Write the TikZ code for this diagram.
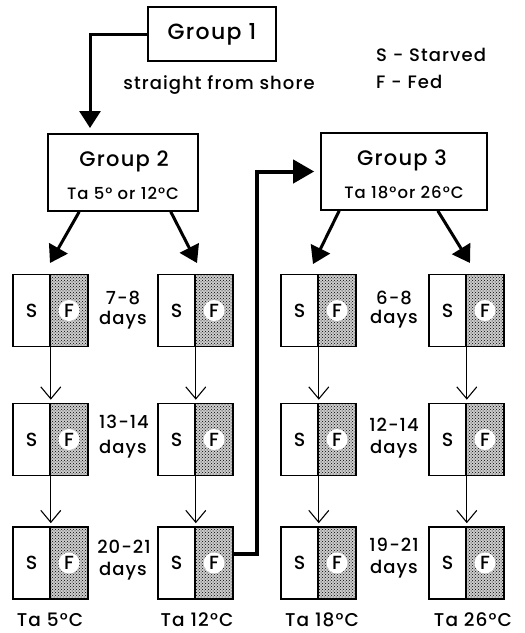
\documentclass[tikz,border=0pt]{standalone}
\usepackage{fontspec}
\setmainfont{Poppins}[UprightFont=* Medium,LetterSpace=6]
\usetikzlibrary{arrows.meta,patterns}
\begin{document}
\begin{tikzpicture}[x=1pt,y=-1pt,
  grp/.style={draw,line width=1.6pt,inner sep=0pt,align=center},
  scell/.style={draw,line width=1.6pt,minimum width=37pt,minimum height=72pt,inner sep=0pt,font=\fontsize{19}{19}\selectfont},
  fcell/.style={draw,line width=1.6pt,minimum width=38pt,minimum height=72pt,inner sep=0pt,fill=black!20,postaction={pattern=crosshatch dots}},
  fcirc/.style={circle,fill=white,minimum size=21pt,inner sep=0pt,font=\fontsize{19}{19}\selectfont},
  bigarrow/.style={line width=3pt,-{Triangle[length=17pt,width=21pt]}},
  thinarrow/.style={line width=1.1pt,-{Straight Barb[length=12pt,width=20pt]}},
  lbl/.style={inner sep=0pt,font=\fontsize{18}{18}\selectfont},
]
\useasboundingbox (0,0) rectangle (525,633);
% groups
\node[grp,minimum width=128pt,minimum height=54pt,font=\fontsize{22}{22}\selectfont] (g1) at (212,34) {Group 1};
\node[grp,minimum width=150pt,minimum height=77pt] (g2) at (123,172.5) {};
\node[grp,minimum width=166pt,minimum height=77pt] (g3) at (404,171.5) {};
\node[lbl,font=\fontsize{21}{21}\selectfont] (g2a) at (124,161) {Group 2};
\node[lbl,font=\fontsize{16.5}{16.5}\selectfont] (g2b) at (123,193) {Ta 5° or 12°C};
\node[lbl,font=\fontsize{21}{21}\selectfont] (g3a) at (402,160) {Group 3};
\node[lbl,font=\fontsize{16.5}{16.5}\selectfont] (g3b) at (404,192) {Ta 18°or 26°C};
\node[lbl,font=\fontsize{18}{18}\selectfont] (shore) at (219,85) {straight from shore};
\node[lbl,anchor=west] (leg1) at (376,55) {S - Starved};
\node[lbl,anchor=west] (leg2) at (376,82) {F - Fed};
% cells
\foreach \c/\d in {1/50,2/195,3/318,4/466}{
  \foreach \r/\y in {1/310.5,2/439.5,3/563}{
    \node[scell] (s\c\r) at (\d-18.5,\y) {S};
    \node[fcell] (f\c\r) at (\d+19,\y) {};
    \node[fcirc] (fl\c\r) at (\d+19,\y) {F};
  }
}
% thin arrows
\foreach \c in {1,2,3,4}{
  \draw[thinarrow,shorten >=3pt] (s\c1.south east) -- (s\c2.north east);
  \draw[thinarrow,shorten >=3pt] (s\c2.south east) -- (s\c3.north east);
}
% days labels
\node[lbl] (d11) at (123,298) {7-8};
\node[lbl] (d12) at (123,320) {days};
\node[lbl] (d21) at (124,422) {13-14};
\node[lbl] (d22) at (123,449) {days};
\node[lbl] (d31) at (124,547) {20-21};
\node[lbl] (d32) at (123,571) {days};
\node[lbl] (e11) at (394,298) {6-8};
\node[lbl] (e12) at (394,319) {days};
\node[lbl] (e21) at (394,425) {12-14};
\node[lbl] (e22) at (394,449) {days};
\node[lbl] (e31) at (394,545) {19-21};
\node[lbl] (e32) at (394,569) {days};
% bottom labels
\node[lbl,font=\fontsize{18.5}{18.5}\selectfont] (b1) at (50,620) {Ta 5°C};
\node[lbl,font=\fontsize{18.5}{18.5}\selectfont] (b2) at (197,620) {Ta 12°C};
\node[lbl,font=\fontsize{18.5}{18.5}\selectfont] (b3) at (322,620) {Ta 18°C};
\node[lbl,font=\fontsize{18.5}{18.5}\selectfont] (b4) at (473,620) {Ta 26°C};
% big arrows
\coordinate (t0) at (90,128);
\coordinate (t1) at (50,263);
\coordinate (t2) at (197,263);
\coordinate (t3) at (313,264);
\coordinate (t4) at (470,263);
\coordinate (bend) at (257,171.5);
\draw[bigarrow] (g1.west) -| (t0);
\draw[bigarrow] ([xshift=32pt]g2.south west) -- (t1);
\draw[bigarrow] ([xshift=-28pt]g2.south east) -- (t2);
\draw[bigarrow] ([xshift=19pt]g3.south west) -- (t3);
\draw[bigarrow] ([xshift=-50pt]g3.south east) -- (t4);
\draw[line width=4pt,-{Triangle[length=21pt,width=23pt]},shorten >=6pt] ([yshift=9pt]f23.east) -| (bend) -- (g3.west);
\end{tikzpicture}
\end{document}
